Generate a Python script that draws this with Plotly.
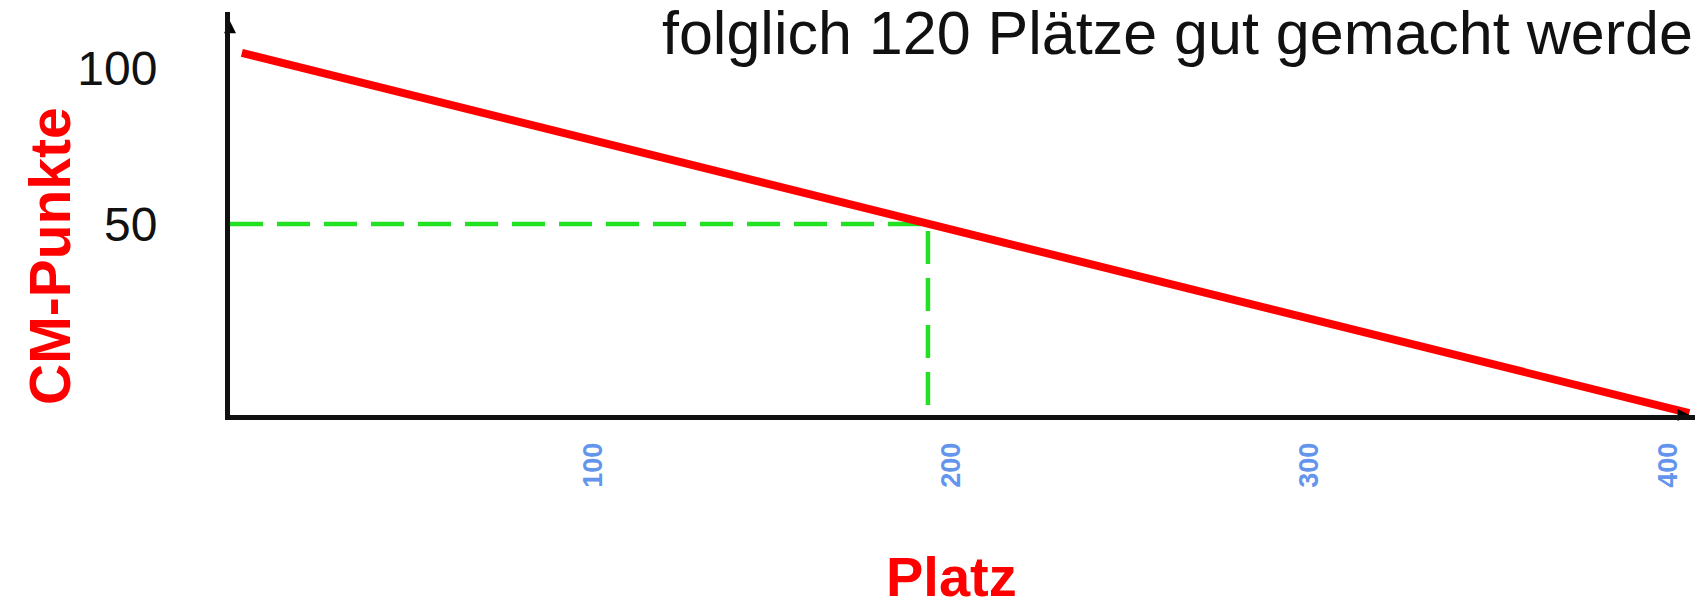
import plotly.graph_objects as go

# ---- data ----
red_x = [2, 406]
red_y = [104.8, -10.6]
marker_x = 193.5          # Platz at which 50 CM-Punkte are reached
marker_y = 50

x_tickvals = [100, 200, 300, 400]
x_ticktext = ["100", "200", "300", "400"]
y_tickvals = [50, 100]
y_ticktext = ["50", "100"]

title_text = "folglich 120 Plätze gut gemacht werden."
x_title = "Platz"
y_title = "CM-Punkte"

# ---- layout geometry ----
W, H = 1695, 602
L, R, T, B = 230, 0, 12, 187
PW, PH = W - L - R, H - T - B
x_range = [-1.3, 407.6]
y_range = [-11.2, 117.9]


def px_x(p):
    return (p - L) / PW


def px_y(p):
    return (H - B - p) / PH


fig = go.Figure()

fig.add_trace(go.Scatter(
    x=[x_range[0], marker_x, marker_x],
    y=[marker_y, marker_y, y_range[0]],
    mode="lines",
    line=dict(color="#22e022", width=4.5, dash="33px,14px"),
    hoverinfo="skip", showlegend=False, cliponaxis=False,
))

fig.add_trace(go.Scatter(
    x=red_x, y=red_y, mode="lines",
    line=dict(color="#ff0000", width=8),
    hoverinfo="skip", showlegend=False, cliponaxis=False,
))

# arrow heads of the axes
fig.add_trace(go.Scatter(
    x=[x_range[0]], y=[y_range[1] - 3], mode="markers",
    marker=dict(symbol="arrow-up", size=12, color="black"),
    hoverinfo="skip", showlegend=False, cliponaxis=False,
))
fig.add_trace(go.Scatter(
    x=[x_range[1] - 1.5], y=[y_range[0]], mode="markers",
    marker=dict(symbol="arrow-right", size=12, color="black"),
    hoverinfo="skip", showlegend=False, cliponaxis=False,
))

fig.update_layout(
    width=W, height=H,
    margin=dict(l=L, r=R, t=T, b=B, autoexpand=False),
    paper_bgcolor="white", plot_bgcolor="white",
    showlegend=False,
    xaxis=dict(
        range=x_range, showgrid=False, zeroline=False,
        showline=True, linecolor="#111111", linewidth=5,
        tickmode="array", tickvals=x_tickvals, ticktext=x_ticktext,
        tickangle=-90, ticks="",
        tickfont=dict(family="Liberation Sans", size=27, color="#6495ed", weight="bold"),
        ticklabelstandoff=12,
    ),
    yaxis=dict(
        range=y_range, showgrid=False, zeroline=False,
        showline=True, linecolor="#111111", linewidth=5,
        tickmode="array", tickvals=y_tickvals, ticktext=y_ticktext,
        ticks="",
        tickfont=dict(family="Liberation Sans", size=48, color="#111111"),
        ticklabelstandoff=58,
    ),
    annotations=[
        dict(text=title_text, xref="paper", yref="paper",
             x=px_x(660), y=px_y(33), xanchor="left", yanchor="middle",
             showarrow=False,
             font=dict(family="Liberation Sans", size=61, color="#111111")),
        dict(text=y_title, xref="paper", yref="paper",
             x=px_x(50), y=px_y(256), xanchor="center", yanchor="middle",
             textangle=-90, showarrow=False,
             font=dict(family="Liberation Sans", size=57, color="#ff0000", weight="bold")),
        dict(text=x_title, xref="paper", yref="paper",
             x=px_x(951), y=px_y(576), xanchor="center", yanchor="middle",
             showarrow=False,
             font=dict(family="Liberation Sans", size=56, color="#ff0000", weight="bold")),
    ],
)

fig.write_html("out.html", config={"displayModeBar": False},
               post_script="document.body.style.margin='0';")
